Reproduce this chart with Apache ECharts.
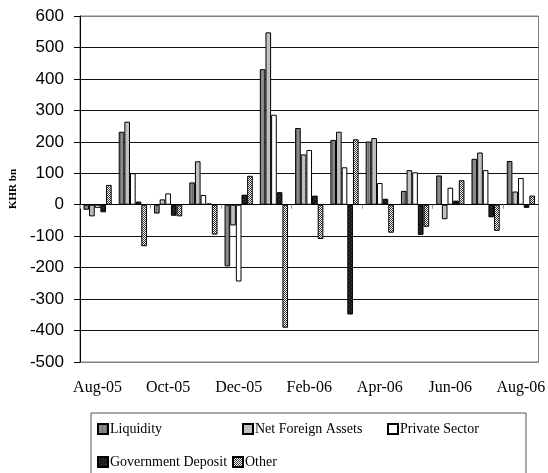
<!DOCTYPE html>
<html>
<head>
<meta charset="utf-8" />
<title>KHR bn</title>
<style>
  html, body { margin: 0; padding: 0; background: #fff; }
  #chart { width: 548px; height: 473px; }
</style>
</head>
<body>
<div id="chart"></div>
<script src="https://cdn.jsdelivr.net/npm/echarts@6/dist/echarts.min.js"></script>
<script>
// months, Aug-05 .. Aug-06
const months = ['Aug-05', 'Sep-05', 'Oct-05', 'Nov-05', 'Dec-05', 'Jan-06', 'Feb-06',
  'Mar-06', 'Apr-06', 'May-06', 'Jun-06', 'Jul-06', 'Aug-06'];

const liquidity = [-16, 232, -28, 71, -196, 431, 244, 206, 201, 44, 93, 146, 139];
const netForeignAssets = [-37, 264, 17, 138, -66, 548, 160, 232, 212, 110, -46, 166, 42];
const privateSector = [-10, 100, 36, 31, -244, 286, 174, 119, 69, 103, 54, 110, 85];
const governmentDeposit = [-24, 10, -35, 4, 32, 40, 29, -349, 19, -96, 13, -40, -10];
const other = [63, -132, -37, -95, 92, -391, -109, 208, -89, -70, 78, -83, 29];

const seriesNames = ['Liquidity', 'Net Foreign Assets', 'Private Sector', 'Government Deposit', 'Other'];

// small fill patterns
function makePattern(bg, draw) {
  const c = document.createElement('canvas');
  c.width = 4; c.height = 4;
  const ctx = c.getContext('2d');
  ctx.fillStyle = bg;
  ctx.fillRect(0, 0, 4, 4);
  draw(ctx);
  return { image: c, repeat: 'repeat' };
}
const hatch = makePattern('#fff', function (ctx) {
  ctx.fillStyle = '#333';
  for (let i = 0; i < 4; i++) {
    ctx.fillRect(i, i, 1, 1);
    ctx.fillRect((i + 2) % 4, i, 1, 1);
  }
});
const liqFill = makePattern('#8a8a8a', function (ctx) {
  ctx.fillStyle = '#6e6e6e';
  ctx.fillRect(0, 0, 1, 4);
});
const nfaFill = makePattern('#c4c4c4', function (ctx) {
  ctx.fillStyle = '#a8a8a8';
  ctx.fillRect(0, 0, 1, 1);
  ctx.fillRect(2, 2, 1, 1);
});
const gdFill = makePattern('#1a1a1a', function (ctx) {
  ctx.fillStyle = '#444';
  ctx.fillRect(1, 1, 1, 1);
  ctx.fillRect(3, 3, 1, 1);
});

const fills = [liqFill, nfaFill, '#ffffff', gdFill, hatch];
const values = [liquidity, netForeignAssets, privateSector, governmentDeposit, other];

const chart = echarts.init(document.getElementById('chart'));

let series = [];
for (let i = 0; i < seriesNames.length; i++) {
  series.push({
    name: seriesNames[i],
    type: 'bar',
    xAxisIndex: 0,
    data: values[i],
    barGap: '0%',
    barCategoryGap: '20%',
    itemStyle: { color: fills[i], borderColor: '#000', borderWidth: 1 },
    emphasis: { disabled: true }
  });
}

// one legend per entry so they sit where the reference has them
const legendPos = [
  [97, 421], [242, 421], [387, 421],
  [97, 454], [232, 454]
];
let legends = [];
for (let i = 0; i < seriesNames.length; i++) {
  legends.push({
    data: [seriesNames[i]],
    left: legendPos[i][0],
    top: legendPos[i][1],
    padding: 0,
    itemWidth: 10,
    itemHeight: 10,
    icon: 'rect',
    selectedMode: false,
    textStyle: {
      fontFamily: 'Liberation Serif',
      fontSize: 14,
      color: '#000',
      lineHeight: 16,
      padding: [0, 0, 0, -3]
    }
  });
}

// grid lines: the top and bottom ones are the gray plot frame
let gridColors = [];
for (let i = 0; i < 12; i++) gridColors.push(i === 0 || i === 11 ? '#808080' : '#111');

const option = {
  animation: false,
  grid: {
    left: 73, top: 16, width: 467, height: 346,
    show: true, borderColor: '#808080', borderWidth: 1, backgroundColor: '#fff'
  },
  legend: legends,
  graphic: [{
    type: 'rect',
    shape: { x: 91, y: 413, width: 435, height: 80 },
    style: { fill: 'none', stroke: '#555', lineWidth: 1 },
    z: -1
  }],
  xAxis: [{
    type: 'category',
    data: months,
    position: 'bottom',
    axisLine: { show: false, onZero: false },
    axisTick: { show: false },
    axisLabel: {
      interval: 1,
      margin: 18,
      fontFamily: 'Liberation Serif',
      fontSize: 16,
      color: '#000'
    },
    splitLine: { show: false }
  }, {
    type: 'category',
    data: months,
    position: 'bottom',
    axisLine: { show: true, onZero: true, lineStyle: { color: '#000', width: 1 } },
    axisTick: { show: true, interval: 1, length: 4, lineStyle: { color: '#999' } },
    axisLabel: { show: false },
    splitLine: { show: false }
  }],
  yAxis: {
    type: 'value',
    min: -500,
    max: 600,
    interval: 100,
    name: 'KHR bn',
    nameLocation: 'middle',
    nameGap: 47,
    nameTextStyle: {
      fontFamily: 'Liberation Serif',
      fontWeight: 'bold',
      fontSize: 11,
      color: '#000'
    },
    axisLine: { show: true, lineStyle: { color: '#000', width: 1 } },
    axisTick: { show: true, inside: false, length: 6, lineStyle: { color: '#000' } },
    axisLabel: {
      margin: 16,
      fontFamily: 'Liberation Sans',
      fontSize: 17,
      color: '#000'
    },
    splitLine: {
      show: true,
      lineStyle: { color: gridColors, width: 1 }
    }
  },
  series: series
};

chart.setOption(option);
</script>
</body>
</html>
